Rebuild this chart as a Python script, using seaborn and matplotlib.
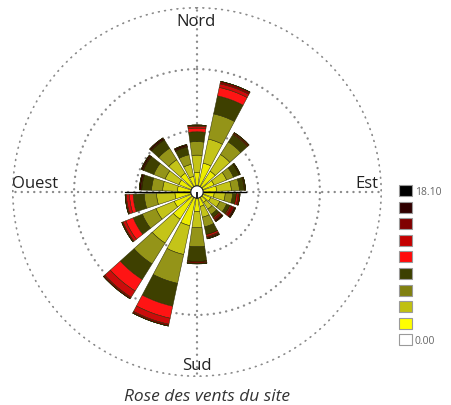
import numpy as np
import matplotlib
matplotlib.use("Agg")
import matplotlib.pyplot as plt
from matplotlib.patches import Patch
import seaborn as sns

# ---- data: 18 direction sectors (degrees from north, clockwise) ----
directions = [0, 20, 40, 60, 80, 100, 120, 140, 160, 180, 200, 220, 240, 260, 280, 300, 320, 340]
# frequencies per speed class (stacked from center outward)
bin1 = [1.1, 1.9, 1.5, 1.0, 1.1, 0.9, 0.7, 0.5, 0.7, 1.1, 2.3, 2.1, 1.5, 1.3, 1.1, 1.1, 1.3, 0.8]
bin2 = [1.4, 2.0, 1.6, 1.1, 1.2, 0.9, 0.8, 0.65, 0.9, 1.3, 2.4, 2.3, 1.6, 1.5, 1.2, 1.2, 1.3, 1.0]
bin3 = [1.1, 2.1, 1.2, 0.6, 0.65, 0.6, 0.6, 0.5, 0.8, 1.55, 2.4, 2.0, 1.2, 1.0, 0.9, 1.0, 1.1, 0.8]
bin4 = [0.8, 1.5, 0.7, 0.5, 0.4, 0.3, 0.3, 0.3, 0.65, 1.2, 1.9, 1.5, 0.8, 0.9, 0.8, 0.9, 0.8, 0.65]
bin5 = [0.3, 0.7, 0.05, 0.0, 0.0, 0.0, 0.0, 0.0, 0.0, 0.0, 1.0, 1.1, 0.65, 0.3, 0.0, 0.0, 0.0, 0.0]
bin6 = [0.15, 0.3, 0.05, 0.0, 0.05, 0.15, 0.1, 0.1, 0.15, 0.05, 0.5, 0.6, 0.25, 0.25, 0.0, 0.0, 0.0, 0.0]
bin7 = [0.1, 0.2, 0.1, 0.05, 0.05, 0.15, 0.25, 0.15, 0.1, 0.1, 0.15, 0.15, 0.1, 0.1, 0.05, 0.05, 0.05, 0.05]
bin8 = [0.0, 0.0, 0.0, 0.05, 0.0, 0.0, 0.15, 0.15, 0.1, 0.05, 0.0, 0.0, 0.0, 0.0, 0.15, 0.15, 0.15, 0.15]
bin9 = [0.0] * 18
bins = [bin1, bin2, bin3, bin4, bin5, bin6, bin7, bin8, bin9]

bin_colors = ["#ecec00", "#c4c418", "#949418", "#3e4000",
              "#ff1414", "#cc0c0c", "#8a0000", "#3a0000", "#000000"]
legend_colors = ["#000000", "#300000", "#800000", "#c40000", "#ff0a0a",
                 "#3c4000", "#808010", "#c0c010", "#ffff00", "#ffffff"]
legend_labels = ["18.10", "", "", "", "", "", "", "", "", "0.00"]

ring_values = [5, 10, 15]
compass_labels = ["Nord", "Est", "Sud", "Ouest"]
caption = "Rose des vents du site"

# ---- style ----
sns.set_theme(style="white")
plt.rcParams["font.family"] = ["Open Sans", "DejaVu Sans"]

W, H = 451, 406
fig = plt.figure(figsize=(W / 100, H / 100), dpi=100)
cx, cy, R = 197, 193, 185
ax = fig.add_axes([(cx - R) / W, (H - cy - R) / H, 2 * R / W, 2 * R / H],
                  projection="polar")
ax.set_theta_zero_location("N")
ax.set_theta_direction(-1)
ax.set_ylim(0, 15.05)
ax.grid(False)
ax.set_xticks([])
ax.set_yticks([])
ax.spines["polar"].set_visible(False)
ax.set_facecolor("none")

grid_kw = dict(color="#8a8a8a", lw=1.7, ls=(0, (0.05, 2.6)),
               dash_capstyle="round", zorder=1)
tt = np.linspace(0, 2 * np.pi, 600)
for r in ring_values:
    ax.plot(tt, np.full_like(tt, r), **grid_kw)
for a in [0, 90, 180, 270]:
    ax.plot([np.deg2rad(a)] * 2, [0, ring_values[-1]], **grid_kw)

theta = np.deg2rad(directions)
width = np.deg2rad(16)
hole = 0.5
bottom = np.full(len(directions), hole)
for vals, col in zip(bins, bin_colors):
    v = np.array(vals)
    ax.bar(theta, v, width=width, bottom=bottom, color=col,
           edgecolor="#2a2a00", linewidth=0.35, zorder=3)
    bottom = bottom + v

# solid W-E line across the rose
ax.plot([np.deg2rad(90)] * 2, [0, bottom[4]], color="black", lw=1.0, zorder=4)
ax.plot([np.deg2rad(270)] * 2, [0, bottom[13]], color="black", lw=1.0, zorder=4)
ax.bar([0], [hole], width=2 * np.pi, bottom=0, color="white",
       edgecolor="#222222", linewidth=0.8, zorder=5)

# compass labels
txt_kw = dict(fontsize=12, color="#222222", ha="center", va="center")
fig.text(196 / W, 1 - 22 / H, compass_labels[0], **txt_kw)
fig.text(367 / W, 1 - 184 / H, compass_labels[1], **txt_kw)
fig.text(197 / W, 1 - 366 / H, compass_labels[2], **txt_kw)
fig.text(35 / W, 1 - 184 / H, compass_labels[3], **txt_kw)

# legend
handles = [Patch(facecolor=c, edgecolor="#9a9a9a", linewidth=0.8) for c in legend_colors]
leg = fig.legend(handles, legend_labels, loc="upper left",
                 bbox_to_anchor=(399 / W, 1 - 186 / H), frameon=False,
                 fontsize=7.5, handlelength=1.25, handleheight=1.25,
                 labelspacing=0.44, handletextpad=0.25, borderpad=0,
                 borderaxespad=0)
for t in leg.get_texts():
    t.set_color("#666666")

fig.text(207 / W, 1 - 397 / H, caption, fontsize=12.5, style="italic",
         color="#333333", ha="center", va="center")

fig.savefig("out.png", dpi=100, facecolor="white")
